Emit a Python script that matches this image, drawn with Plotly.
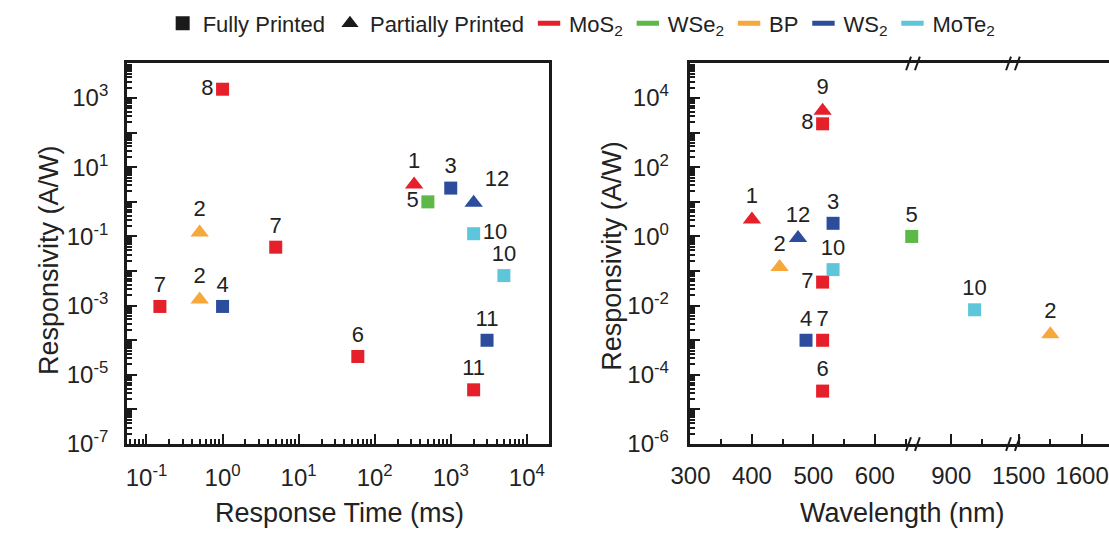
import plotly.graph_objects as go

# ---------------- data ----------------
# Left panel: responsivity vs response time
lt_time = [1.0, 0.5, 5, 330, 500, 1000, 2000, 2000, 5000, 0.15, 0.5, 1.0, 60, 3000, 2000]
lt_resp = [1800, 0.13, 0.049, 3.2, 1.0, 2.5, 0.95, 0.12, 0.0074, 0.00095, 0.0015, 0.00095, 3.4e-5, 1.0e-4, 3.7e-6]
lt_mat = ["MoS2", "BP", "MoS2", "MoS2", "WSe2", "WS2", "WS2", "MoTe2", "MoTe2", "MoS2", "BP", "WS2", "MoS2", "WS2", "MoS2"]
lt_type = ["Fully", "Partially", "Fully", "Partially", "Fully", "Fully", "Partially", "Fully", "Fully",
           "Fully", "Partially", "Fully", "Fully", "Fully", "Fully"]
lt_label = ["8", "2", "7", "1", "5", "3", "12", "10", "10", "7", "2", "4", "6", "11", "11"]
lt_pos = ["middle left", "top center", "top center", "top center", "middle left", "top center", "top right",
          "middle right", "top center", "top center", "top center", "top center", "top center", "top center",
          "top center"]

# Right panel: responsivity vs wavelength
rt_wl = [515, 515, 400, 475, 532, 660, 445, 532, 515, 938, 1550, 488, 515, 515]
rt_resp = [4300, 1800, 3.1, 0.9, 2.4, 1.0, 0.13, 0.11, 0.048, 0.0076, 0.0015, 0.001, 0.001, 3.4e-5]
rt_mat = ["MoS2", "MoS2", "MoS2", "WS2", "WS2", "WSe2", "BP", "MoTe2", "MoS2", "MoTe2", "BP", "WS2", "MoS2", "MoS2"]
rt_type = ["Partially", "Fully", "Partially", "Partially", "Fully", "Fully", "Partially", "Fully", "Fully",
           "Fully", "Partially", "Fully", "Fully", "Fully"]
rt_label = ["9", "8", "1", "12", "3", "5", "2", "10", "7", "10", "2", "4", "7", "6"]
rt_pos = ["top center", "middle left", "top center", "top center", "top center", "top center", "top center",
          "top center", "middle left", "top center", "top center", "top center", "top center", "top center"]

materials = ["MoS2", "WSe2", "BP", "WS2", "MoTe2"]
mat_names = ["MoS<sub>2</sub>", "WSe<sub>2</sub>", "BP", "WS<sub>2</sub>", "MoTe<sub>2</sub>"]
mat_colors = {"MoS2": "#E5202A", "WSe2": "#5DB947", "BP": "#F6A83B", "WS2": "#2C4C9C", "MoTe2": "#5EC6DA"}
types = ["Fully", "Partially"]
type_names = ["Fully Printed", "Partially Printed"]
type_symbols = {"Fully": "square", "Partially": "triangle-up"}
type_sizes = {"Fully": 13, "Partially": 16}

# broken wavelength axis segments (nm)
seg_ranges = [[300, 663.6], [839.4, 1002], [1492.6, 1642.5]]
seg_ticks = [[300, 400, 500, 600], [900], [1500, 1600]]
seg_minor = [[350, 450, 550, 650], [950], [1550]]
seg_limits = [700, 1200, 1e9]

x_title_left = "Response Time (ms)"
x_title_right = "Wavelength (nm)"
y_title = "Responsivity (A/W)"

FONT = "Liberation Sans, Arial, sans-serif"
INK = "#1a1a1a"
W, H = 1109, 542

# ---------------- layout geometry (pixels) ----------------
top_px, bot_px = 65, 455
ydom = [(H - bot_px) / H, (H - top_px) / H]
left_dom = [107 / W, 538 / W]
seg_px = [682, 910, 1012, W]
seg_doms = [[seg_px[i] / W, seg_px[i + 1] / W] for i in range(3)]

fig = go.Figure()


def add_group(xs, ys, mats, typs, labels, poss, xaxis, yaxis, keep):
    for m in materials:
        for t in types:
            idx = [i for i in range(len(xs)) if mats[i] == m and typs[i] == t and keep(xs[i])]
            if not idx:
                continue
            fig.add_trace(go.Scatter(
                x=[xs[i] for i in idx], y=[ys[i] for i in idx],
                mode="markers+text", text=[labels[i] for i in idx],
                textposition=[poss[i] for i in idx],
                textfont=dict(family=FONT, size=22, color="#222"),
                marker=dict(symbol=type_symbols[t], size=type_sizes[t], color=mat_colors[m],
                            line=dict(width=0)),
                cliponaxis=False, showlegend=False, hoverinfo="skip",
                xaxis=xaxis, yaxis=yaxis))


add_group(lt_time, lt_resp, lt_mat, lt_type, lt_label, lt_pos, "x", "y", lambda v: True)
seg_axes = ["x2", "x3", "x4"]
for k in range(3):
    lo = 0 if k == 0 else seg_limits[k - 1]
    hi = seg_limits[k]
    add_group(rt_wl, rt_resp, rt_mat, rt_type, rt_label, rt_pos, seg_axes[k], "y2",
              lambda v, lo=lo, hi=hi: lo <= v < hi)

# legend entries
for t, nm in zip(types, type_names):
    fig.add_trace(go.Scatter(x=[None], y=[None], mode="markers", name=nm,
                             marker=dict(symbol=type_symbols[t], size=14 if t == "Fully" else 15, color=INK)))
for m, nm in zip(materials, mat_names):
    fig.add_trace(go.Scatter(x=[None], y=[None], mode="markers", name=nm,
                             marker=dict(symbol="line-ew", size=16, color=mat_colors[m],
                                         line=dict(color=mat_colors[m], width=5))))


def log_ticks(lo, hi, labeled):
    vals = [10.0 ** e for e in range(lo, hi + 1)]
    text = [f"10<sup>{e}</sup>" if e in labeled else "" for e in range(lo, hi + 1)]
    minor = [mm * 10.0 ** e for e in range(lo, hi) for mm in range(2, 10)]
    return vals, text, minor


axis_common = dict(showline=True, linecolor=INK, linewidth=2.5, ticks="inside", ticklen=10, tickwidth=2,
                   tickcolor=INK, showgrid=False, zeroline=False,
                   tickfont=dict(family=FONT, size=24, color="#222"))
minor_common = dict(ticks="inside", ticklen=5, tickwidth=1.5, tickcolor=INK, showgrid=False)
title_font = dict(family=FONT, size=27, color="#222")

xv, xt, xm = log_ticks(-2, 5, list(range(-1, 5)))
yv, yt, ym = log_ticks(-7, 4, [-7, -5, -3, -1, 1, 3])
y2v, y2t, y2m = log_ticks(-6, 5, [-6, -4, -2, 0, 2, 4])

fig.update_layout(
    xaxis=dict(**axis_common, type="log", domain=left_dom, anchor="y", range=[-1.258, 4.296], mirror=True,
               tickvals=xv, ticktext=xt, minor=dict(**minor_common, tickvals=xm), ticklabelstandoff=10),
    yaxis=dict(**axis_common, type="log", domain=ydom, anchor="x", range=[-7, 4], mirror=True,
               tickvals=yv, ticktext=yt, minor=dict(**minor_common, tickvals=ym), ticklabelstandoff=11),
    yaxis2=dict(**axis_common, type="log", domain=ydom, anchor="x2", range=[-6, 5],
                tickvals=y2v, ticktext=y2t, minor=dict(**minor_common, tickvals=y2m), ticklabelstandoff=14),
)
for k in range(3):
    fig.layout[("xaxis%d" % (k + 2))] = dict(
        **axis_common, domain=seg_doms[k], anchor="y2", range=seg_ranges[k], mirror=True,
        tickvals=seg_ticks[k], ticktext=[str(v) for v in seg_ticks[k]],
        minor=dict(**minor_common, tickvals=seg_minor[k]), ticklabelstandoff=8)

# axis titles
for txt, px, py, ang in [(x_title_left, 324, 526, 0), (x_title_right, 898, 526, 0),
                         (y_title, 27, 266, -90), (y_title, 602, 262, -90)]:
    fig.add_annotation(text=txt, xref="paper", yref="paper", x=px / W, y=(H - py) / H, textangle=ang,
                       xanchor="center", yanchor="middle", showarrow=False, font=title_font)

# axis-break marks "//"
for bx in seg_px[1:3]:
    for by in (top_px, bot_px):
        fig.add_shape(type="line", xref="paper", yref="paper",
                      x0=(bx - 8) / W, x1=(bx - 3) / W, y0=(H - by - 7) / H, y1=(H - by + 7) / H,
                      line=dict(color=INK, width=2))
        fig.add_shape(type="line", xref="paper", yref="paper",
                      x0=(bx + 1) / W, x1=(bx + 6) / W, y0=(H - by - 7) / H, y1=(H - by + 7) / H,
                      line=dict(color=INK, width=2))

fig.update_layout(
    width=W, height=H, margin=dict(l=0, r=0, t=0, b=0), autosize=False,
    paper_bgcolor="white", plot_bgcolor="white",
    font=dict(family=FONT, color="#222"),
    legend=dict(orientation="h", x=571 / W, xanchor="center", y=(H - 24) / H, yanchor="middle",
                font=dict(family=FONT, size=22, color="#222"), bgcolor="rgba(0,0,0,0)",
                itemwidth=30, tracegroupgap=0),
)

fig.write_html("out.html", config={"displayModeBar": False},
               post_script="document.body.style.margin='0px';document.body.style.overflow='hidden';")
